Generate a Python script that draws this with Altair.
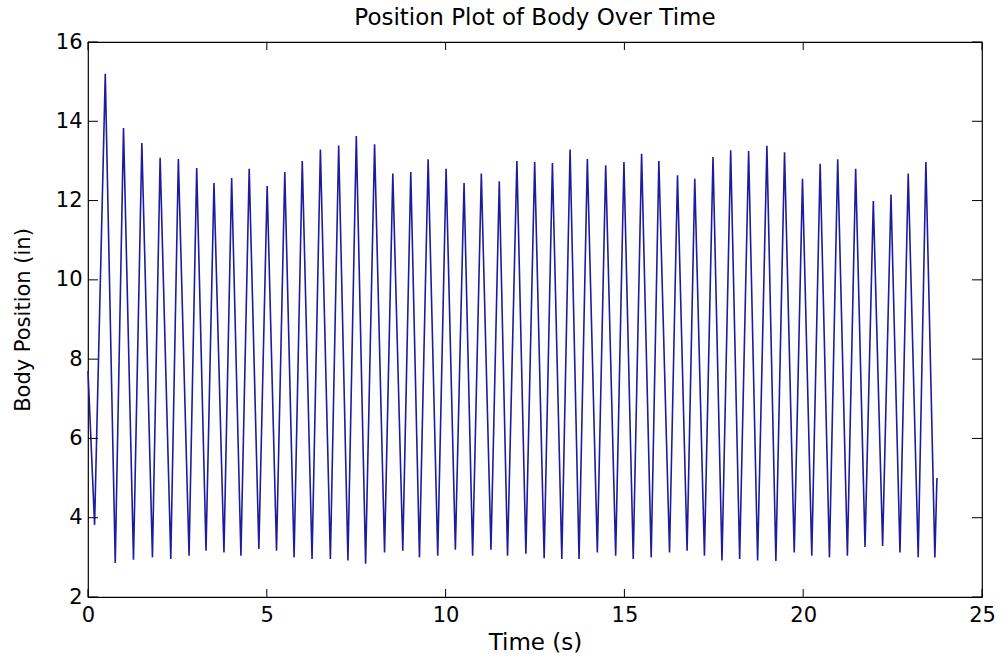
import altair as alt
import pandas as pd

title_text = "Position Plot of Body Over Time"
x_title = "Time (s)"
y_title = "Body Position (in)"
x_ticks = [0, 5, 10, 15, 20, 25]
y_ticks = [2, 4, 6, 8, 10, 12, 14, 16]

start_t, start_v = 0.0, 7.7
end_t, end_v = 23.74, 5.0

trough_t = [0.184, 0.762, 1.272, 1.802, 2.315, 2.826, 3.300, 3.802, 4.276, 4.778,
            5.272, 5.763, 6.265, 6.778, 7.269, 7.763, 8.293, 8.803, 9.269, 9.780,
            10.273, 10.756, 11.269, 11.732, 12.245, 12.756, 13.250, 13.732, 14.243, 14.756,
            15.247, 15.749, 16.262, 16.753, 17.238, 17.729, 18.223, 18.725, 19.236, 19.749,
            20.240, 20.734, 21.236, 21.729, 22.221, 22.706, 23.216, 23.682]
trough_v = [3.82, 2.86, 2.94, 3.00, 2.96, 3.04, 3.17, 3.12, 3.04, 3.21,
            3.17, 3.00, 2.96, 2.96, 2.92, 2.84, 3.12, 3.17, 3.00, 3.04,
            3.19, 3.04, 3.19, 3.04, 3.09, 2.98, 2.96, 2.96, 3.12, 3.04,
            2.96, 3.00, 3.12, 3.17, 3.04, 2.92, 2.96, 2.92, 2.91, 3.12,
            3.04, 3.00, 3.04, 3.26, 3.29, 3.12, 3.00, 3.00]

peak_t = [0.483, 0.993, 1.506, 2.017, 2.527, 3.040, 3.523, 4.017, 4.508, 5.010,
          5.503, 5.992, 6.499, 7.010, 7.503, 8.014, 8.524, 9.026, 9.512, 10.014,
          10.516, 10.999, 11.501, 11.994, 12.491, 12.987, 13.481, 13.964, 14.477, 14.987,
          15.481, 15.964, 16.485, 16.968, 17.478, 17.972, 18.474, 18.985, 19.478, 19.980,
          20.474, 20.965, 21.467, 21.961, 22.455, 22.937, 23.431]
peak_v = [15.20, 13.83, 13.45, 13.08, 13.05, 12.82, 12.44, 12.57, 12.80, 12.37,
          12.72, 13.00, 13.29, 13.39, 13.63, 13.42, 12.68, 12.72, 13.04, 12.80,
          12.44, 12.68, 12.49, 13.00, 12.97, 12.95, 13.29, 13.05, 12.89, 12.97,
          13.18, 13.00, 12.64, 12.55, 13.10, 13.27, 13.25, 13.38, 13.22, 12.55,
          12.93, 13.04, 12.80, 11.99, 12.15, 12.68, 12.97]

rows = [{"t": start_t, "v": start_v}]
for i in range(len(trough_t)):
    rows.append({"t": trough_t[i], "v": trough_v[i]})
    if i < len(peak_t):
        rows.append({"t": peak_t[i], "v": peak_v[i]})
rows.append({"t": end_t, "v": end_v})
df = pd.DataFrame(rows)
df["i"] = range(len(df))

W, H = 894, 555
FONT = "DejaVu Sans"
xs = alt.Scale(domain=[0, 25], nice=False, zero=False)
ys = alt.Scale(domain=[2, 16], nice=False, zero=False)

line = alt.Chart(df).mark_line(color="#1c1c9c", strokeWidth=1.6).encode(
    x=alt.X("t:Q", scale=xs,
            axis=alt.Axis(values=x_ticks, title=x_title, labelPadding=7, titlePadding=6,
                          labelFlush=False, titleFontSize=23)),
    y=alt.Y("v:Q", scale=ys,
            axis=alt.Axis(values=y_ticks, title=y_title, labelPadding=6, titlePadding=22,
                          titleFontSize=21)),
    order="i:Q",
)

xt = pd.DataFrame({"t": x_ticks})
yt = pd.DataFrame({"v": y_ticks})

xtick_bottom = alt.Chart(xt).mark_rule(color="black", strokeWidth=1).encode(
    x=alt.X("t:Q", scale=xs), y=alt.value(H), y2=alt.value(H - 8))
xtick_top = alt.Chart(xt).mark_rule(color="black", strokeWidth=1).encode(
    x=alt.X("t:Q", scale=xs), y=alt.value(0), y2=alt.value(8))
ytick_left = alt.Chart(yt).mark_rule(color="black", strokeWidth=1).encode(
    y=alt.Y("v:Q", scale=ys), x=alt.value(0), x2=alt.value(10))
ytick_right = alt.Chart(yt).mark_rule(color="black", strokeWidth=1).encode(
    y=alt.Y("v:Q", scale=ys), x=alt.value(W - 10), x2=alt.value(W))

chart = alt.layer(line, xtick_bottom, xtick_top, ytick_left, ytick_right).properties(
    width=W, height=H,
    padding={"left": 88, "top": 42, "right": 21, "bottom": 64},
    autosize=alt.AutoSizeParams(type="none"),
    title=alt.TitleParams(title_text, font=FONT, fontSize=23, fontWeight="normal",
                          color="black", offset=1, anchor="middle"),
    background="white",
).configure_axis(
    ticks=False, domain=False, grid=False,
    labelFont=FONT, labelFontSize=21, labelColor="black",
    titleFont=FONT, titleFontWeight="normal", titleColor="black",
).configure_view(stroke="black", strokeWidth=1.2)

chart.save("out.html", embed_options={"renderer": "svg", "actions": False})
